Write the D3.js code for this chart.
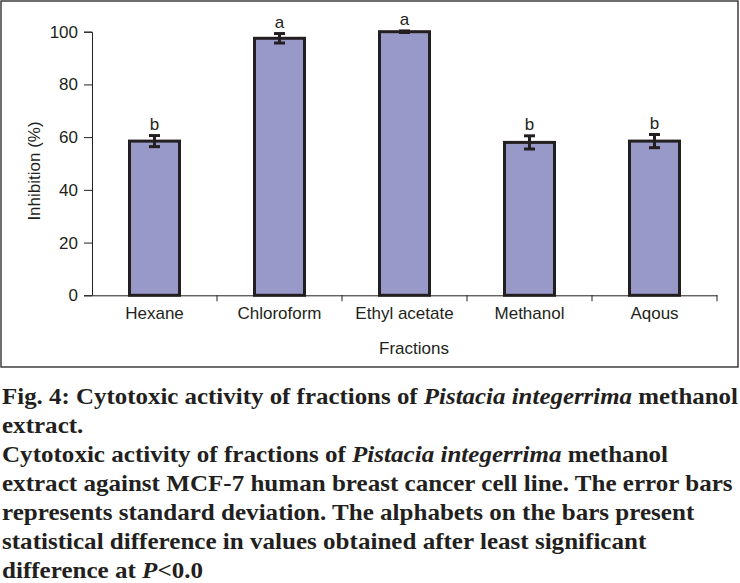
<!DOCTYPE html>
<meta charset="utf-8">
<style>
    body { margin: 0; background: #fff; }
    text { font-family: "Liberation Sans", Arial, sans-serif; fill: #231f20; }
    .cap text { font-family: "Liberation Serif", "Times New Roman", serif; font-weight: bold; }
</style>
<body>
<script src="https://d3js.org/d3.v7.min.js"></script>
<script>

    var fractions = ["Hexane", "Chloroform", "Ethyl acetate", "Methanol", "Aqous"];
    var inhibition = [58.5, 97.5, 100, 58, 58.5];
    var sd = [2.1, 1.8, 0.3, 2.5, 2.5];
    var letters = ["b", "a", "a", "b", "b"];
    var yTicks = [0, 20, 40, 60, 80, 100];

    var width = 740, height = 583;
    var plot = {left: 92, right: 717, top: 31.7, bottom: 295.3};

    var svg = d3.select("body").append("svg")
        .attr("width", width)
        .attr("height", height);

    // frame around the chart
    svg.append("rect")
        .attr("x", 1).attr("y", 1)
        .attr("width", 737).attr("height", 366)
        .attr("fill", "none")
        .attr("stroke", "#231f20")
        .attr("stroke-width", 1.3);

    var x = d3.scaleBand()
        .domain(fractions)
        .range([plot.left, plot.right])
        .paddingInner(0).paddingOuter(0);

    var y = d3.scaleLinear()
        .domain([0, 100])
        .range([plot.bottom, plot.top]);

    // axes
    var yAxis = svg.append("g")
        .attr("transform", "translate(" + plot.left + ",0)")
        .call(d3.axisLeft(y).tickValues(yTicks).tickSize(8).tickPadding(6));
    yAxis.select(".domain").attr("stroke", "#231f20");
    yAxis.selectAll(".tick line").attr("stroke", "#231f20");
    yAxis.selectAll(".tick text").style("font-size", "17px").attr("fill", "#231f20")
        .attr("font-family", "Liberation Sans, Arial, sans-serif");

    var xAxis = svg.append("g")
        .attr("transform", "translate(0," + plot.bottom + ")")
        .call(d3.axisBottom(x).tickSize(0).tickPadding(12));
    xAxis.select(".domain").attr("stroke", "#231f20");
    xAxis.selectAll(".tick text").style("font-size", "17px").attr("fill", "#231f20")
        .attr("font-family", "Liberation Sans, Arial, sans-serif");

    // category dividers hanging below the x axis
    svg.append("g").selectAll("line")
        .data(fractions)
        .enter().append("line")
        .attr("x1", function(d) { return x(d) + x.bandwidth(); })
        .attr("x2", function(d) { return x(d) + x.bandwidth(); })
        .attr("y1", plot.bottom)
        .attr("y2", plot.bottom + 6)
        .attr("stroke", "#231f20");

    var barW = x.bandwidth() * 0.4;
    var rows = fractions.map(function(f, i) {
        return {name: f, value: inhibition[i], err: sd[i], letter: letters[i]};
    });

    var bars = svg.append("g").selectAll("g")
        .data(rows)
        .enter().append("g");

    bars.append("rect")
        .attr("x", function(d) { return x(d.name) + x.bandwidth() / 2 - barW / 2; })
        .attr("y", function(d) { return y(d.value); })
        .attr("width", barW)
        .attr("height", function(d) { return y(0) - y(d.value); })
        .attr("fill", "#9898c9")
        .attr("stroke", "#231f20")
        .attr("stroke-width", 3);

    // error bars
    bars.append("line")
        .attr("x1", function(d) { return x(d.name) + x.bandwidth() / 2; })
        .attr("x2", function(d) { return x(d.name) + x.bandwidth() / 2; })
        .attr("y1", function(d) { return y(d.value + d.err); })
        .attr("y2", function(d) { return y(d.value - d.err); })
        .attr("stroke", "#231f20").attr("stroke-width", 3);
    [1, -1].forEach(function(s) {
        bars.append("line")
            .attr("x1", function(d) { return x(d.name) + x.bandwidth() / 2 - 5.5; })
            .attr("x2", function(d) { return x(d.name) + x.bandwidth() / 2 + 5.5; })
            .attr("y1", function(d) { return y(d.value + s * d.err); })
            .attr("y2", function(d) { return y(d.value + s * d.err); })
            .attr("stroke", "#231f20").attr("stroke-width", 3);
    });

    bars.append("text")
        .attr("x", function(d) { return x(d.name) + x.bandwidth() / 2; })
        .attr("y", function(d) { return y(d.value + d.err) - 6; })
        .attr("text-anchor", "middle")
        .style("font-size", "17px")
        .text(function(d) { return d.letter; });

    // axis titles
    svg.append("text")
        .attr("x", 414)
        .attr("y", 354)
        .attr("text-anchor", "middle")
        .style("font-size", "17px")
        .text("Fractions");

    svg.append("text")
        .attr("transform", "translate(40,171) rotate(-90)")
        .attr("text-anchor", "middle")
        .style("font-size", "17px")
        .text("Inhibition (%)");

    // caption
    var caption = [
        [["Fig. 4: Cytotoxic activity of fractions of ", false], ["Pistacia integerrima", true], [" methanol", false]],
        [["extract.", false]],
        [["Cytotoxic activity of fractions of ", false], ["Pistacia integerrima", true], [" methanol", false]],
        [["extract against MCF-7 human breast cancer cell line. The error bars", false]],
        [["represents standard deviation. The alphabets on the bars present", false]],
        [["statistical difference in values obtained after least significant", false]],
        [["difference at ", false], ["P", true], ["<0.0", false]]
    ];

    var cap = svg.append("g").attr("class", "cap");
    caption.forEach(function(line, i) {
        var t = cap.append("text")
            .style("font-size", "23px");
        line.forEach(function(part) {
            t.append("tspan")
                .style("font-style", part[1] ? "italic" : "normal")
                .text(part[0]);
        });
        // stretch like the wide serif of the original, but keep each line inside the page
        var sx = Math.min(1.09, (width - 4) / t.node().getComputedTextLength());
        t.attr("transform", "translate(2," + (404 + i * 29) + ") scale(" + sx + ",1)");
    });

</script>
